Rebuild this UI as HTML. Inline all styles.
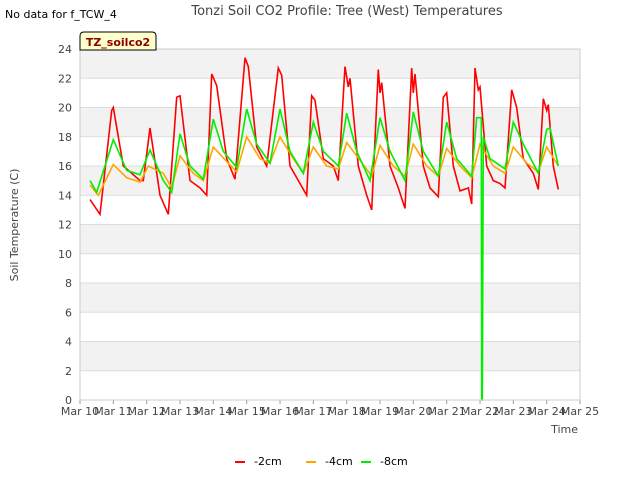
<!DOCTYPE html>
<html><head><meta charset="utf-8"><style>
body{margin:0;background:#fff;font-family:"Liberation Sans","DejaVu Sans",sans-serif}
svg text{font-family:"DejaVu Sans","Liberation Sans",sans-serif}
</style></head><body>
<svg id="chart" width="640" height="480" xmlns="http://www.w3.org/2000/svg">
<rect width="640" height="480" fill="#fff"/>
<text x="5" y="18" font-size="11" fill="#000">No data for f_TCW_4</text>
<text x="347" y="15" font-size="13" fill="#444" text-anchor="middle">Tonzi Soil CO2 Profile: Tree (West) Temperatures</text>
<g id="grid"></g>
<g id="series"></g>
<g id="axes"></g>
<g>
<path d="M80,50 L80,36 Q80,32 84,32 L152,32 Q156,32 156,36 L156,50 Z" fill="#ffffcc" stroke="#000"/>
<text x="118" y="46" font-size="11" font-weight="bold" fill="#8b0000" text-anchor="middle">TZ_soilco2</text>
</g>
<text x="18" y="225" font-size="11" fill="#444" text-anchor="middle" transform="rotate(-90 18 225)">Soil Temperature (C)</text>
<text x="578" y="433" font-size="11" fill="#444" text-anchor="end">Time</text>
<g id="legend"></g>
</svg>
<script>
const xTicks=["Mar 10","Mar 11","Mar 12","Mar 13","Mar 14","Mar 15","Mar 16","Mar 17","Mar 18","Mar 19","Mar 20","Mar 21","Mar 22","Mar 23","Mar 24","Mar 25"];
const yTicks=[0,2,4,6,8,10,12,14,16,18,20,22,24];
const seriesNames=["-2cm","-4cm","-8cm"];
const seriesColors=["#ff0000","#ffa500","#00ee00"];
const t2=[0.3,0.6,0.95,1.0,1.3,1.8,1.9,2.1,2.4,2.65,2.9,3.0,3.3,3.6,3.8,3.95,4.1,4.4,4.65,4.95,5.05,5.3,5.6,5.95,6.05,6.3,6.6,6.8,6.95,7.05,7.3,7.6,7.75,7.95,8.05,8.1,8.35,8.6,8.75,8.95,9.0,9.05,9.3,9.55,9.75,9.95,10.0,10.05,10.3,10.5,10.75,10.9,11.0,11.2,11.4,11.65,11.75,11.85,11.95,12.0,12.2,12.4,12.6,12.75,12.95,13.1,13.3,13.6,13.75,13.9,14.0,14.05,14.2,14.35];
const v2=[13.7,12.7,19.8,20,16,15,15,18.6,14.0,12.7,20.7,20.8,15,14.5,14.0,22.3,21.5,16.5,15.1,23.4,22.8,17.3,16.0,22.7,22.2,16,14.8,14.0,20.8,20.5,16.5,16,15,22.8,21.4,22,16,14,13,22.6,21,21.7,16,14.5,13.1,22.7,21,22.3,16,14.5,13.9,20.7,21.0,16,14.3,14.5,13.4,22.7,21.2,21.4,16,15,14.8,14.5,21.2,20,16.5,15.5,14.4,20.6,19.8,20.2,16,14.4];
const t4=[0.3,0.55,1.0,1.4,1.8,2.05,2.5,2.75,3.0,3.4,3.7,4.0,4.4,4.7,5.0,5.4,5.7,6.0,6.4,6.7,7.0,7.4,7.75,8.0,8.4,8.75,9.0,9.4,9.75,10.0,10.4,10.75,11.0,11.4,11.75,12.0,12.4,12.75,13.0,13.4,13.75,14.0,14.35];
const v4=[14.7,14.0,16.1,15.2,14.9,16.0,15.5,14.5,16.7,15.5,15.0,17.3,16.3,15.6,18.0,16.5,16.2,18.0,16.5,15.5,17.3,16.0,15.8,17.6,16.4,15.3,17.4,16.0,15.3,17.5,16,15.3,17.2,16,15.2,17.5,16,15.5,17.3,16.2,15.6,17.3,16];
const t8=[0.3,0.5,1.0,1.4,1.8,2.1,2.5,2.75,3.0,3.3,3.7,4.0,4.3,4.7,5.0,5.3,5.7,6.0,6.3,6.7,7.0,7.3,7.75,8.0,8.3,8.7,9.0,9.3,9.75,10.0,10.3,10.75,11.0,11.3,11.75,11.9,12.04,12.05,12.07,12.1,12.3,12.75,13.0,13.3,13.75,14.0,14.1,14.35];
const v8=[15,14.2,17.8,15.7,15.4,17.1,15.0,14.2,18.2,16,15.1,19.2,17,15.9,19.9,17.5,16.2,19.9,17,15.5,19.0,17,16,19.6,17,15,19.3,17,15,19.7,17,15.3,19,16.5,15.3,19.3,19.3,0,0,18,16.5,15.8,19.0,17.5,15.5,18.5,18.6,16];
const L=80,R=580,T=49,B=400;
const xs=d=>L+d*(R-L)/15, ys=v=>B-v*(B-T)/24;
const NS="http://www.w3.org/2000/svg";
function mk(tag,attrs,parent){const e=document.createElementNS(NS,tag);for(const k in attrs)e.setAttribute(k,attrs[k]);parent.appendChild(e);return e;}
const grid=document.getElementById('grid'),axes=document.getElementById('axes'),ser=document.getElementById('series'),leg=document.getElementById('legend');
for(let i=0;i<12;i++){if(i%2===1){const r=mk('rect',{x:L,y:ys(yTicks[i+1]),width:R-L,height:ys(yTicks[i])-ys(yTicks[i+1]),fill:'#f2f2f2'},grid);

}}
yTicks.forEach(v=>{const l=mk('line',{x1:L,x2:R,y1:ys(v),y2:ys(v),stroke:'#ddd'},grid);


const t=mk('text',{x:L-8,y:ys(v)+4,'font-size':11,fill:'#444','text-anchor':'end'},axes);t.textContent=v;

});
xTicks.forEach((s,i)=>{const t=mk('text',{x:xs(i),y:B+15,'font-size':11,fill:'#444','text-anchor':'middle'},axes);t.textContent=s;


const k=mk('line',{x1:xs(i),x2:xs(i),y1:B,y2:B+4,stroke:'#999'},axes);

});
const fr=mk('rect',{x:L,y:T,width:R-L,height:B-T,fill:'none',stroke:'#ccc'},axes);


const data=[[t2,v2],[t4,v4],[t8,v8]];
data.forEach((d,i)=>{const p=mk('polyline',{points:d[0].map((t,j)=>xs(t).toFixed(1)+','+ys(d[1][j]).toFixed(1)).join(' '),fill:'none',stroke:seriesColors[i],'stroke-width':1.6},ser);

});
const lx=[235,306,361];
seriesNames.forEach((n,i)=>{const l=mk('line',{x1:lx[i],x2:lx[i]+10,y1:462,y2:462,stroke:seriesColors[i],'stroke-width':2},leg);


const t=mk('text',{x:lx[i]+19,y:465,'font-size':11,fill:'#000'},leg);t.textContent=n;

});
</script>
</body></html>
